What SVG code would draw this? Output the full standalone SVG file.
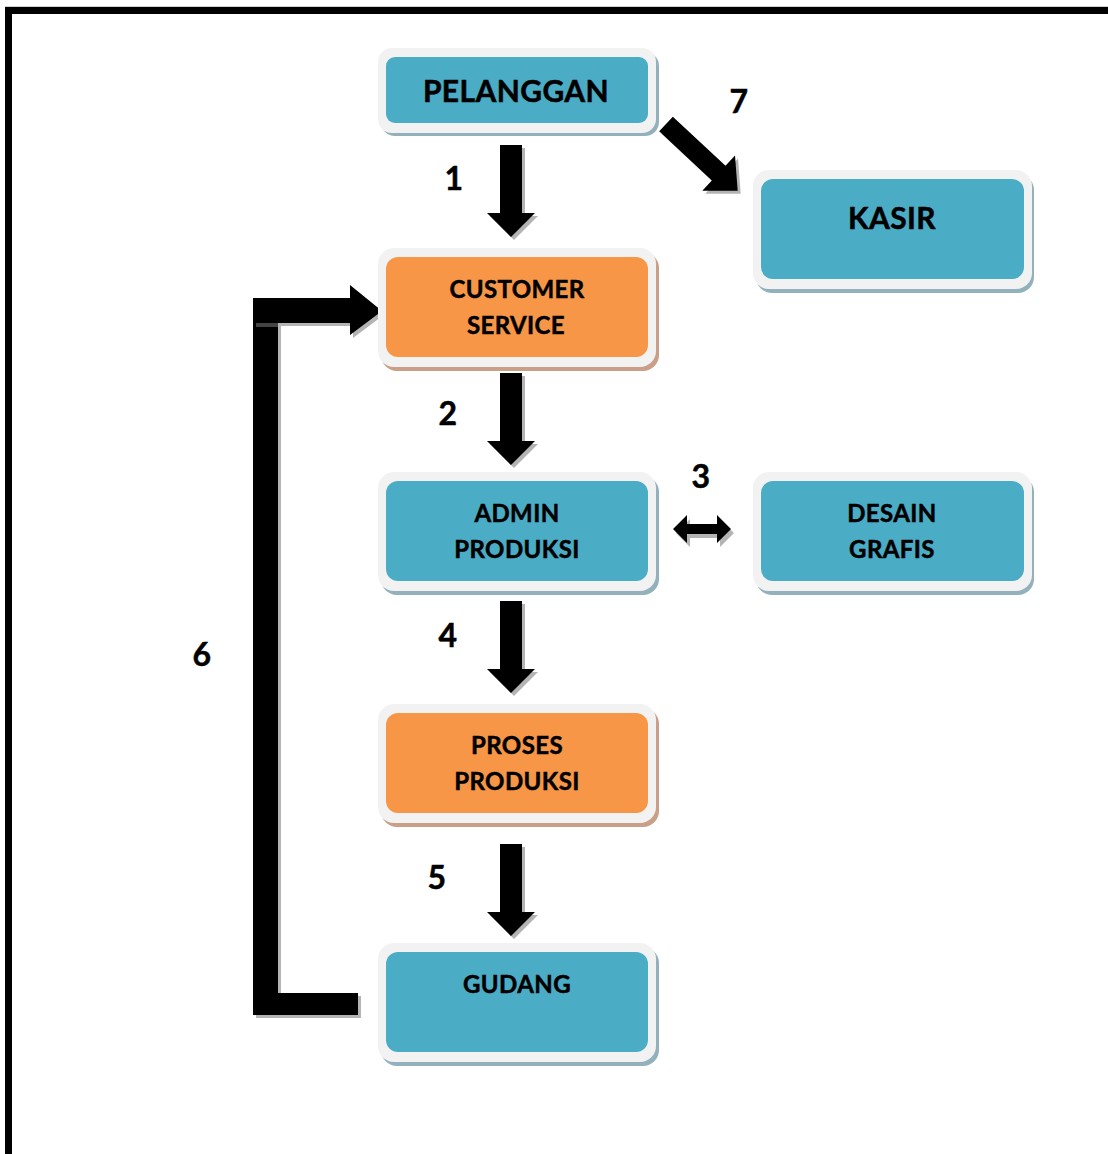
<svg xmlns="http://www.w3.org/2000/svg" width="1108" height="1154" viewBox="0 0 1108 1154">
<style>
.lbl{font-family:Lato,"Open Sans","Liberation Sans",sans-serif;font-weight:bold;fill:#000;stroke:#000;stroke-width:0.5px;letter-spacing:0.4px;text-anchor:middle}
.big{font-size:30px}
.mid{font-size:24px}
.num{font-size:32px}
.outer{fill:#f2f2f2}
.shb{fill:#93b1bd}
.sho{fill:#c9a087}
.blue{fill:#4bacc6}
.orange{fill:#f79646}
.arr{fill:#000}
.ash{fill:#b4b4b4}
</style>
<defs>
<polygon id="down" points="-11,0 11,0 11,68 24,68 0,92 -24,68 -11,68"/>
<polygon id="diag" points="0,-10 72,-10 72,-24 98,0 72,24 72,10 0,10"/>
<polygon id="dbl" points="0,0 14,-14 14,-5 44,-5 44,-14 58,0 44,14 44,5 14,5 14,14"/>
<path id="elbow" d="M253 1015 V298 H350 V285 L382 311 L350 335 V323 H278 V993 H358 V1015 Z"/>
</defs>
<rect width="1108" height="1154" fill="#fff"/>
<path d="M8.5 1154 V10.5 H1108" fill="none" stroke="#000" stroke-width="7"/>
<line x1="5" y1="6.5" x2="1108" y2="6.5" stroke="#d0d0d0" stroke-width="1"/>

<g id="connectors">
  <g id="a1">
    <use href="#down" x="514" y="148" class="ash"/>
    <use href="#down" x="511" y="145" class="arr"/>
  </g>
  <g id="a2">
    <use href="#down" x="514" y="376" class="ash"/>
    <use href="#down" x="511" y="373" class="arr"/>
  </g>
  <g id="a4">
    <use href="#down" x="514" y="604" class="ash"/>
    <use href="#down" x="511" y="601" class="arr"/>
  </g>
  <g id="a5">
    <use href="#down" x="514" y="847" class="ash"/>
    <use href="#down" x="511" y="844" class="arr"/>
  </g>
  <g id="a7">
    <use href="#diag" transform="translate(669,127) rotate(43)" class="ash"/>
    <use href="#diag" transform="translate(666,124) rotate(43)" class="arr"/>
  </g>
  <g id="a3">
    <use href="#dbl" x="676" y="533" class="ash"/>
    <use href="#dbl" x="673" y="529" class="arr"/>
  </g>
  <g id="a6">
    <use href="#elbow" x="3" y="3" class="ash"/>
    <use href="#elbow" class="arr"/>
    <rect x="256" y="323" width="22" height="4" fill="#444"/>
  </g>
</g>

<g id="pelanggan">
  <rect x="381" y="52" width="278" height="84" rx="14" class="shb"/>
  <rect x="378" y="48" width="278" height="85" rx="14" class="outer"/>
  <rect x="386" y="57" width="262" height="66" rx="9" class="blue"/>
  <text x="516" y="102" class="lbl big">PELANGGAN</text>
</g>

<g id="kasir">
  <rect x="756" y="174" width="278" height="119" rx="16" class="shb"/>
  <rect x="753" y="170" width="279" height="119" rx="16" class="outer"/>
  <rect x="761" y="179" width="263" height="100" rx="12" class="blue"/>
  <text x="892" y="229" class="lbl big">KASIR</text>
</g>

<g id="customer-service">
  <rect x="381" y="252" width="278" height="119" rx="16" class="sho"/>
  <rect x="378" y="248" width="278" height="119" rx="16" class="outer"/>
  <rect x="386" y="257" width="262" height="100" rx="12" class="orange"/>
  <text x="517" y="298" class="lbl mid">CUSTOMER</text>
  <text x="516" y="334" class="lbl mid">SERVICE</text>
</g>

<g id="admin-produksi">
  <rect x="381" y="476" width="278" height="119" rx="16" class="shb"/>
  <rect x="378" y="472" width="278" height="119" rx="16" class="outer"/>
  <rect x="386" y="481" width="262" height="100" rx="12" class="blue"/>
  <text x="517" y="522" class="lbl mid">ADMIN</text>
  <text x="517" y="558" class="lbl mid">PRODUKSI</text>
</g>

<g id="desain-grafis">
  <rect x="756" y="476" width="278" height="119" rx="16" class="shb"/>
  <rect x="753" y="472" width="279" height="119" rx="16" class="outer"/>
  <rect x="761" y="481" width="263" height="100" rx="12" class="blue"/>
  <text x="892" y="522" class="lbl mid">DESAIN</text>
  <text x="892" y="558" class="lbl mid">GRAFIS</text>
</g>

<g id="proses-produksi">
  <rect x="381" y="708" width="278" height="119" rx="16" class="sho"/>
  <rect x="378" y="704" width="278" height="119" rx="16" class="outer"/>
  <rect x="386" y="713" width="262" height="100" rx="12" class="orange"/>
  <text x="517" y="754" class="lbl mid">PROSES</text>
  <text x="517" y="790" class="lbl mid">PRODUKSI</text>
</g>

<g id="gudang">
  <rect x="381" y="947" width="278" height="119" rx="16" class="shb"/>
  <rect x="378" y="943" width="278" height="119" rx="16" class="outer"/>
  <rect x="386" y="952" width="262" height="100" rx="12" class="blue"/>
  <text x="517" y="993" class="lbl mid">GUDANG</text>
</g>

<g id="numbers">
  <text x="454" y="190" class="lbl num">1</text>
  <text x="448" y="425" class="lbl num">2</text>
  <text x="701" y="488" class="lbl num">3</text>
  <text x="448" y="647" class="lbl num">4</text>
  <text x="437" y="889" class="lbl num">5</text>
  <text x="202" y="666" class="lbl num">6</text>
  <text x="739" y="113" class="lbl num">7</text>
</g>
</svg>
